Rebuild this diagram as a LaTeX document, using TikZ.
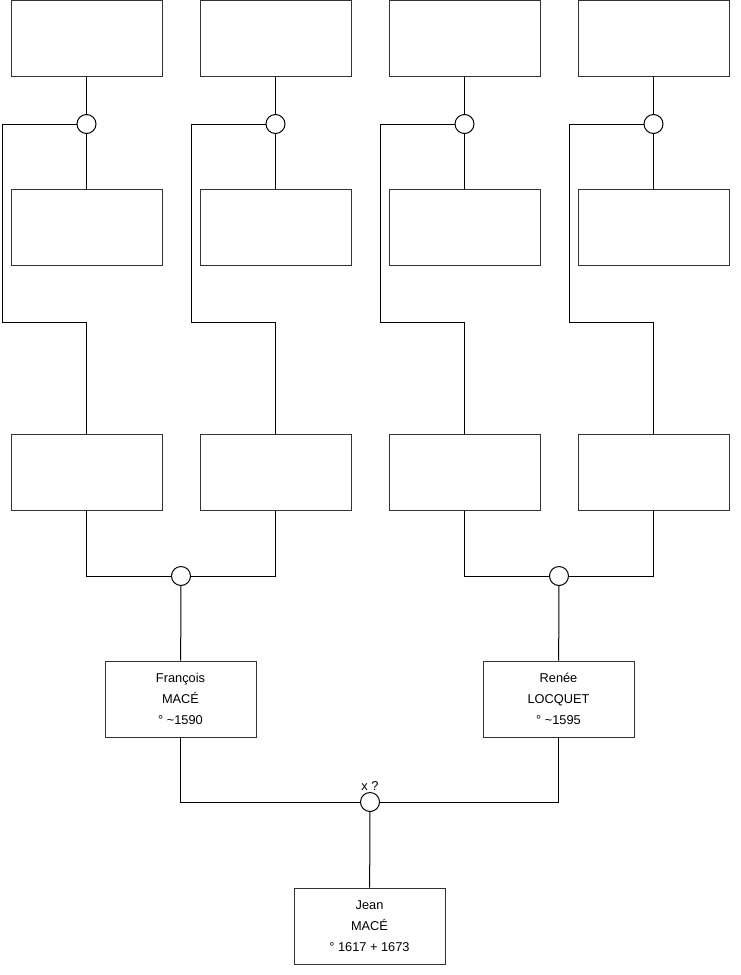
\documentclass[tikz,border=0pt]{standalone}
\usepackage{fontspec}
\setmainfont{Liberation Sans}
\usetikzlibrary{positioning,calc}
\definecolor{boxline}{RGB}{51,51,51}
\tikzset{
  person/.style={draw=boxline, line width=0.75pt, fill=white, inner sep=0pt,
                 minimum width=113.25pt, minimum height=57pt, align=center,
                 font=\fontsize{9.6}{15.5}\selectfont},
  union/.style={circle, draw=black, line width=0.75pt, fill=white,
                minimum size=14.25pt, inner sep=0pt},
  link/.style={draw=black, line width=0.75pt},
  note/.style={font=\fontsize{9.6}{11}\selectfont, inner sep=1pt},
}
\begin{document}
\begin{tikzpicture}[x=0.75pt, y=-0.75pt]
\useasboundingbox (0,0) rectangle (740,975);
% one unit is one pixel of the reference; y runs downwards.
% Column centres of the four top branches, and the generations' rows.
\def\ca{86.5} \def\cb{275.5} \def\cc{464.5} \def\cd{653.5}

% top two generations: couple, union ring, and the bent line to the child
\foreach \n/\cx in {a/\ca, b/\cb, c/\cc, d/\cd} {
  \node[person] (g3\n) at (\cx,38.5) {};
  \node[union]  (u3\n) at (\cx,124) {};
  \node[person] (s3\n) at (\cx,227) {};
  \node[person] (p2\n) at (\cx,472.5) {};
  \coordinate (k3\n) at (\cx-84.5,322);
  \draw[link] (g3\n) -- (u3\n) -- (s3\n);
  \draw[link] (u3\n) -| (k3\n) -| (p2\n);
}

% grandparents' unions
\node[union] (u2a) at (181,576) {};
\node[union] (u2b) at (559,576) {};
\draw[link] (p2a) |- (u2a);
\draw[link] (p2b) |- (u2a);
\draw[link] (p2c) |- (u2b);
\draw[link] (p2d) |- (u2b);

% parents
\node[person] (fr) at (180.5,699) {François\\MACÉ\\° \textasciitilde1590};
\node[person] (re) at (558.5,699) {Renée\\LOCQUET\\° \textasciitilde1595};
\draw[link] (u2a) -- (fr);
\draw[link] (u2b) -- (re);

% marriage and child
\node[union] (u1) at (370,802) {};
\node[note, above=0pt of u1] (m1) {x ?};
\draw[link] (fr) |- (u1);
\draw[link] (re) |- (u1);
\node[person] (jn) at (369.5,926) {Jean\\MACÉ\\° 1617 + 1673};
\draw[link] (u1) -- (jn);
\end{tikzpicture}
\end{document}
